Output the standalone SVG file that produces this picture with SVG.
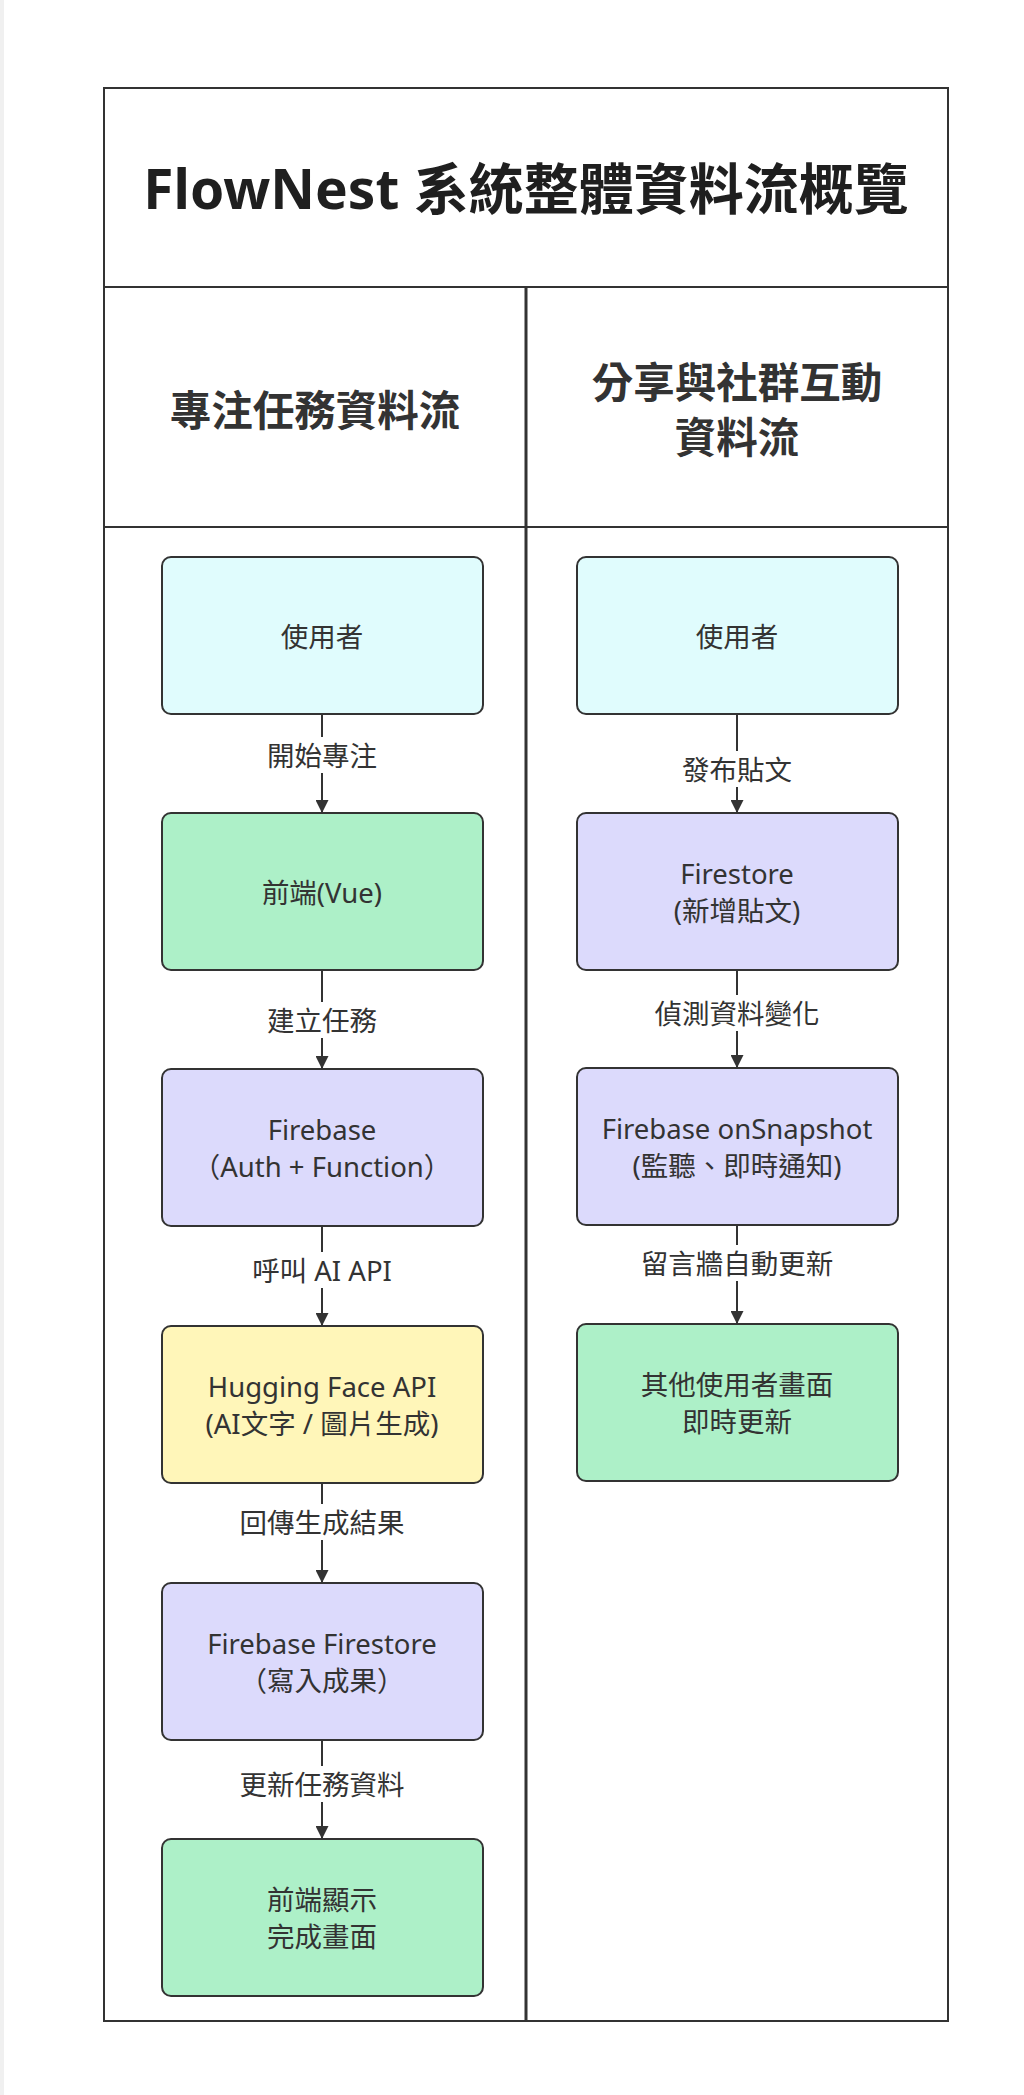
<svg xmlns="http://www.w3.org/2000/svg" width="1024" height="2095" viewBox="0 0 1024 2095">
<defs>
<style>
.t{font-family:"Noto Sans","Noto Sans CJK TC",sans-serif;fill:#333;text-anchor:middle;dominant-baseline:central}
.title{font-size:55px;font-weight:700;fill:#1f1f1f}
.hdr{font-size:41.5px;font-weight:700;fill:#333}
.nt{font-size:27.5px}
.lb{font-size:27.5px}
.node{stroke:#333;stroke-width:2}
.user{fill:#e0fcfd}
.green{fill:#adf0c8}
.purple{fill:#dcdafc}
.yellow{fill:#fff6b9}
.edge{stroke:#333;stroke-width:2;fill:none}
.frame{stroke:#333;stroke-width:2;fill:none}
</style>
<marker id="arr" viewBox="0 0 12 12" refX="12" refY="6" markerWidth="13" markerHeight="13" markerUnits="userSpaceOnUse" orient="auto">
<path d="M0,0 L12,6 L0,12 z" fill="#333"/>
</marker>
</defs>
<rect width="1024" height="2095" fill="#ffffff"/>
<rect x="0" y="0" width="4" height="2095" fill="#f0f0f0"/>
<g id="frame">
<rect x="104" y="88" width="844" height="1933" class="frame"/>
<line x1="104" y1="287" x2="948" y2="287" class="frame"/>
<line x1="104" y1="527" x2="948" y2="527" class="frame"/>
<line x1="526" y1="287" x2="526" y2="2021" stroke="#333" stroke-width="3"/>
<text x="526" y="187" class="t title">FlowNest 系統整體資料流概覽</text>
<text x="315" y="410" class="t hdr">專注任務資料流</text>
<text x="737" y="382" class="t hdr">分享與社群互動</text>
<text x="737" y="437" class="t hdr">資料流</text>
</g>
<g id="connectors">
<g id="e1">
<line x1="322" y1="715" x2="322" y2="737" class="edge"/>
<line x1="322" y1="773" x2="322" y2="813" class="edge" marker-end="url(#arr)"/>
<text x="322" y="755" class="t lb">開始專注</text>
</g>
<g id="e2">
<line x1="322" y1="971" x2="322" y2="1002" class="edge"/>
<line x1="322" y1="1038" x2="322" y2="1069" class="edge" marker-end="url(#arr)"/>
<text x="322" y="1020" class="t lb">建立任務</text>
</g>
<g id="e3">
<line x1="322" y1="1227" x2="322" y2="1252" class="edge"/>
<line x1="322" y1="1288" x2="322" y2="1326" class="edge" marker-end="url(#arr)"/>
<text x="322" y="1270" class="t lb">呼叫 AI API</text>
</g>
<g id="e4">
<line x1="322" y1="1484" x2="322" y2="1504" class="edge"/>
<line x1="322" y1="1540" x2="322" y2="1583" class="edge" marker-end="url(#arr)"/>
<text x="322" y="1522" class="t lb">回傳生成結果</text>
</g>
<g id="e5">
<line x1="322" y1="1740" x2="322" y2="1766" class="edge"/>
<line x1="322" y1="1802" x2="322" y2="1839" class="edge" marker-end="url(#arr)"/>
<text x="322" y="1784" class="t lb">更新任務資料</text>
</g>
<g id="e6">
<line x1="737" y1="715" x2="737" y2="751" class="edge"/>
<line x1="737" y1="787" x2="737" y2="813" class="edge" marker-end="url(#arr)"/>
<text x="737" y="769" class="t lb">發布貼文</text>
</g>
<g id="e7">
<line x1="737" y1="971" x2="737" y2="995" class="edge"/>
<line x1="737" y1="1031" x2="737" y2="1068" class="edge" marker-end="url(#arr)"/>
<text x="737" y="1013" class="t lb">偵測資料變化</text>
</g>
<g id="e8">
<line x1="737" y1="1226" x2="737" y2="1245" class="edge"/>
<line x1="737" y1="1281" x2="737" y2="1324" class="edge" marker-end="url(#arr)"/>
<text x="737" y="1263" class="t lb">留言牆自動更新</text>
</g>
</g>
<g id="n-user1">
<rect x="162" y="557" width="321" height="157" rx="9" class="node user"/>
<text x="322" y="636" class="t nt">使用者</text>
</g>
<g id="n-frontend">
<rect x="162" y="813" width="321" height="157" rx="9" class="node green"/>
<text x="322" y="892" class="t nt">前端(Vue)</text>
</g>
<g id="n-firebase">
<rect x="162" y="1069" width="321" height="157" rx="9" class="node purple"/>
<text x="322" y="1129" class="t nt">Firebase</text>
<text x="322" y="1166" class="t nt">（Auth + Function）</text>
</g>
<g id="n-hf">
<rect x="162" y="1326" width="321" height="157" rx="9" class="node yellow"/>
<text x="322" y="1386" class="t nt">Hugging Face API</text>
<text x="322" y="1423" class="t nt">(AI文字 / 圖片生成)</text>
</g>
<g id="n-firestore1">
<rect x="162" y="1583" width="321" height="157" rx="9" class="node purple"/>
<text x="322" y="1643" class="t nt">Firebase Firestore</text>
<text x="322" y="1680" class="t nt">（寫入成果）</text>
</g>
<g id="n-done">
<rect x="162" y="1839" width="321" height="157" rx="9" class="node green"/>
<text x="322" y="1899" class="t nt">前端顯示</text>
<text x="322" y="1936" class="t nt">完成畫面</text>
</g>
<g id="n-user2">
<rect x="577" y="557" width="321" height="157" rx="9" class="node user"/>
<text x="737" y="636" class="t nt">使用者</text>
</g>
<g id="n-firestore2">
<rect x="577" y="813" width="321" height="157" rx="9" class="node purple"/>
<text x="737" y="873" class="t nt">Firestore</text>
<text x="737" y="910" class="t nt">(新增貼文)</text>
</g>
<g id="n-snapshot">
<rect x="577" y="1068" width="321" height="157" rx="9" class="node purple"/>
<text x="737" y="1128" class="t nt">Firebase onSnapshot</text>
<text x="737" y="1165" class="t nt">(監聽、即時通知)</text>
</g>
<g id="n-others">
<rect x="577" y="1324" width="321" height="157" rx="9" class="node green"/>
<text x="737" y="1384" class="t nt">其他使用者畫面</text>
<text x="737" y="1421" class="t nt">即時更新</text>
</g>
</svg>
